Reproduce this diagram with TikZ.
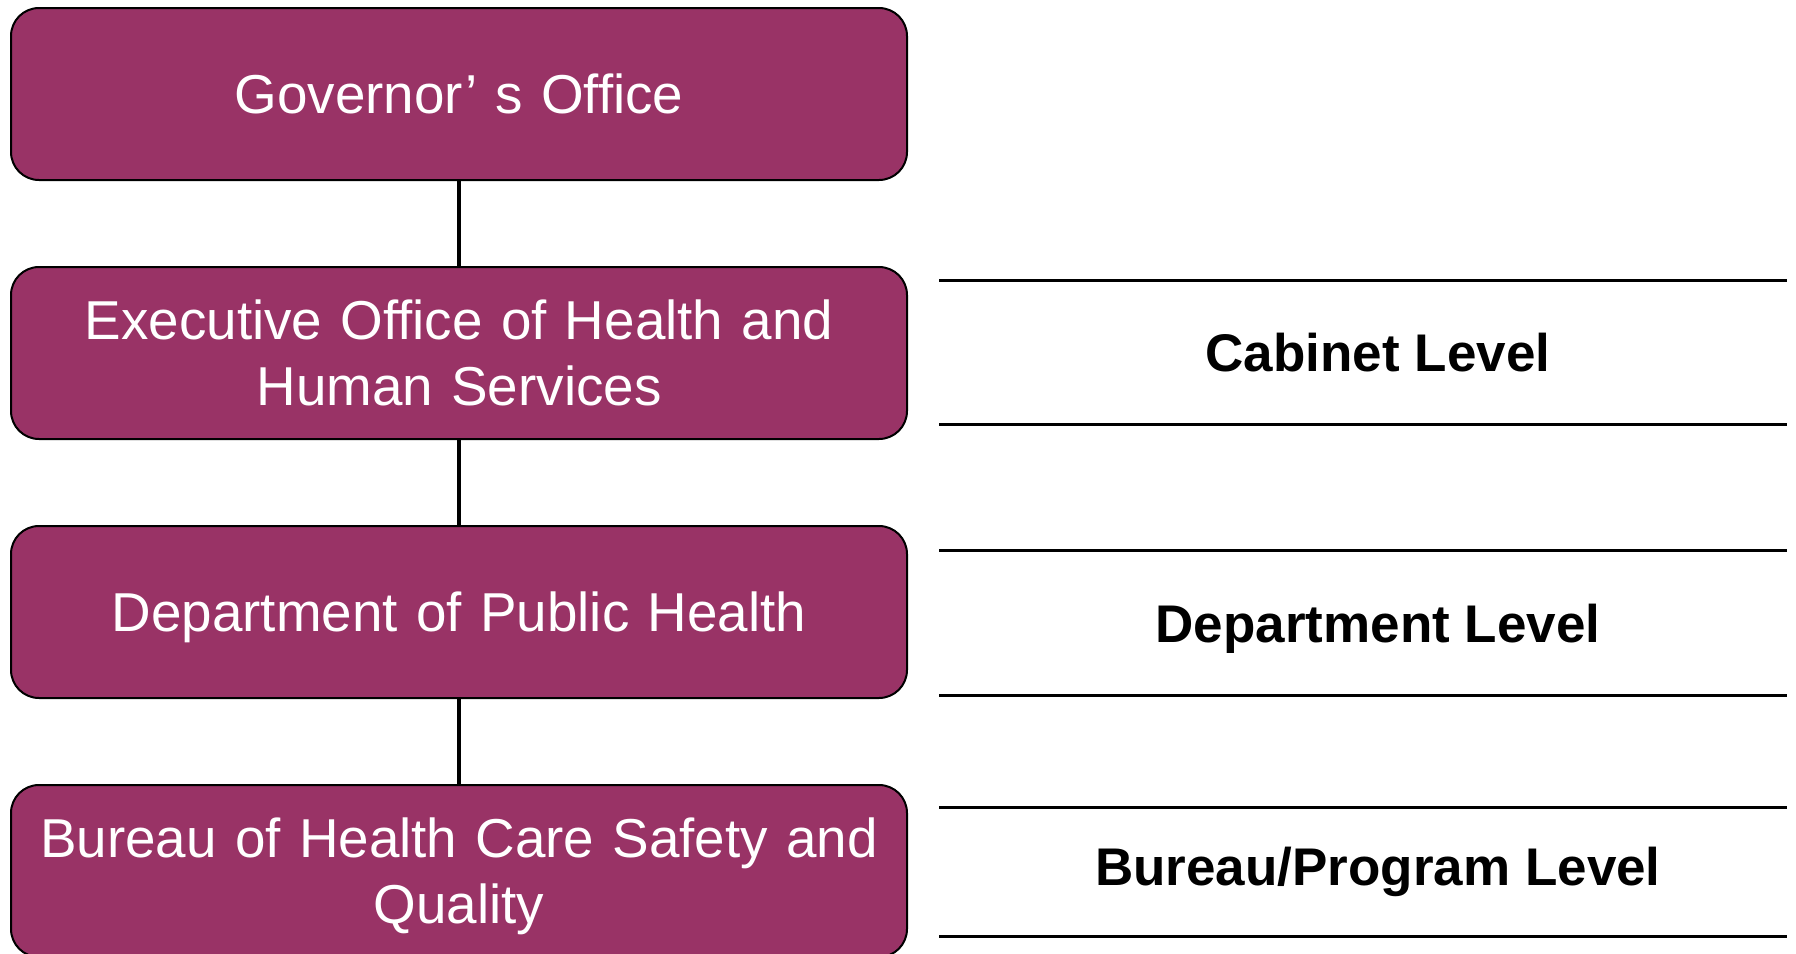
\documentclass[tikz,border=0pt]{standalone}
\usepackage{fontspec}
\setmainfont{Liberation Sans}
\usetikzlibrary{positioning}
\definecolor{plum}{HTML}{993366}
\tikzstyle{office} = [rectangle, draw, line width=1pt, fill=plum, text=white, text width=440pt, align=center, rounded corners=14pt, minimum width=448pt, minimum height=86pt, font=\fontsize{27.4}{33}\selectfont]
\tikzstyle{level} = [rectangle, minimum height=72pt, font=\fontsize{26.5}{31}\selectfont\bfseries]
\tikzstyle{levelrule} = [line width=1.5pt]

\begin{document}
\begin{tikzpicture}[node distance=129.5pt, >=stealth]
   \useasboundingbox (0,0) rectangle (898pt,-477pt);
   % nodes
   \node[office] (gov) at (229.5pt,-47pt)                         {Governor’ s Office};
   \node[office] (eohhs)  [below of=gov]                          {Executive Office of Health and\\Human Services};
   \node[office, text depth=0pt] (dph) [below of=eohhs]           {Department of Public Health};
   \node[office, text depth=33pt] (bureau) [below of=dph]         {Bureau of Health Care Safety and\\Quality};
   \node[level] (cabinet) [right of=eohhs, node distance=459.5pt, yshift=0.25pt] {Cabinet Level};
   \node[level, text depth=0pt] (deptlvl) [right of=dph, node distance=459.5pt, yshift=-5.5pt] {Department Level};
   \node[level, minimum height=64pt] (proglvl) [right of=bureau, node distance=459.5pt, yshift=-0.5pt] {Bureau/Program Level};

   % edges
   \draw[line width=2pt] (gov) -- (eohhs);
   \draw[line width=2pt] (eohhs) -- (dph);
   \draw[line width=2pt] (dph) -- (bureau);

   % level rules
   \foreach \lvl in {cabinet, deptlvl, proglvl} {
      \draw[levelrule] ([xshift=-219.5pt]\lvl.north) -- ([xshift=204.5pt]\lvl.north);
      \draw[levelrule] ([xshift=-219.5pt]\lvl.south) -- ([xshift=204.5pt]\lvl.south);
   }
\end{tikzpicture}
\end{document}
